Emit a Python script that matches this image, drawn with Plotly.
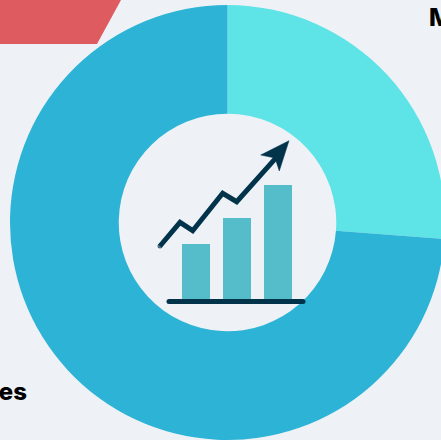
import plotly.graph_objects as go

# Donut shares
categories = ["Marketing", "Sales"]
shares = [26.2, 73.8]
slice_colors = ["#5EE3E6", "#2DB3D6"]

# Growth icon: bars and trend line, in a canvas-sized coordinate system
bar_x = [196, 237, 278]
bar_heights = [57, 83, 116]
trend_x = [160, 180, 192.7, 222.7, 236.7, 280]
trend_y = [55, 78.7, 70.3, 107.7, 99.3, 147.7]
arrow_x = [289, 260.7, 275, 279.3, 289]
arrow_y = [160.3, 146, 143, 130, 160.3]

W, H = 450, 440
BG = "#EEF2F6"
NAVY = "#01334A"
BAR = "#55BDC9"
TOP = 5
BOTTOM = 440
LEFT = 10
RIGHT = 445

fig = go.Figure()

fig.add_trace(go.Bar(x=bar_x, y=bar_heights, width=28, marker=dict(color=BAR, line_width=0)))
fig.add_trace(go.Scatter(
    x=trend_x, y=trend_y, mode="lines+markers",
    line=dict(color=NAVY, width=5),
    marker=dict(color=NAVY, size=[5, 0, 0, 0, 0, 0], line_width=0),
))
fig.add_trace(go.Scatter(
    x=arrow_x, y=arrow_y, mode="lines", fill="toself",
    fillcolor=NAVY, line=dict(color=NAVY, width=0.5),
))
fig.add_trace(go.Pie(
    labels=categories, values=shares, hole=0.5, sort=False,
    direction="clockwise", rotation=0, textinfo="none",
    marker=dict(colors=slice_colors, line_width=0),
    domain=dict(x=[LEFT / W, RIGHT / W], y=[(H - BOTTOM) / H, (H - TOP) / H]),
))

fig.update_layout(
    width=W, height=H,
    margin=dict(l=0, r=0, t=0, b=0),
    paper_bgcolor=BG, plot_bgcolor=BG,
    showlegend=False,
    xaxis=dict(range=[0, W], visible=False, fixedrange=True),
    yaxis=dict(range=[-139, 301], visible=False, fixedrange=True),
    shapes=[
        # Red banner clipped by the top-left corner
        dict(type="path", xref="paper", yref="paper", layer="above",
             path=f"M 0 1 L {121 / W} 1 L {97 / W} {1 - 44 / H} L 0 {1 - 44 / H} Z",
             fillcolor="#DE5C60", line_width=0),
        # Rounded baseline under the bars
        dict(type="path", xref="x", yref="y", layer="above",
             path="M 169 2 L 303 2 Q 305.5 2 305.5 -0.5 Q 305.5 -3 303 -3 "
                  "L 169 -3 Q 166.5 -3 166.5 -0.5 Q 166.5 2 169 2 Z",
             fillcolor=NAVY, line_width=0),
    ],
    annotations=[
        dict(text=categories[0], xref="paper", yref="paper",
             x=426.5 / W, y=1 - 18 / H, xanchor="left", yanchor="middle", showarrow=False,
             font=dict(family="Inter", size=24, weight=800, color="#000000")),
        dict(text=categories[1], xref="paper", yref="paper",
             x=29 / W, y=1 - 391 / H, xanchor="right", yanchor="middle", showarrow=False,
             font=dict(family="Inter", size=24, weight=800, color="#000000")),
    ],
)

fig.write_html(
    "out.html",
    post_script="document.documentElement.style.overflow='hidden';document.body.style.overflow='hidden';",
)
